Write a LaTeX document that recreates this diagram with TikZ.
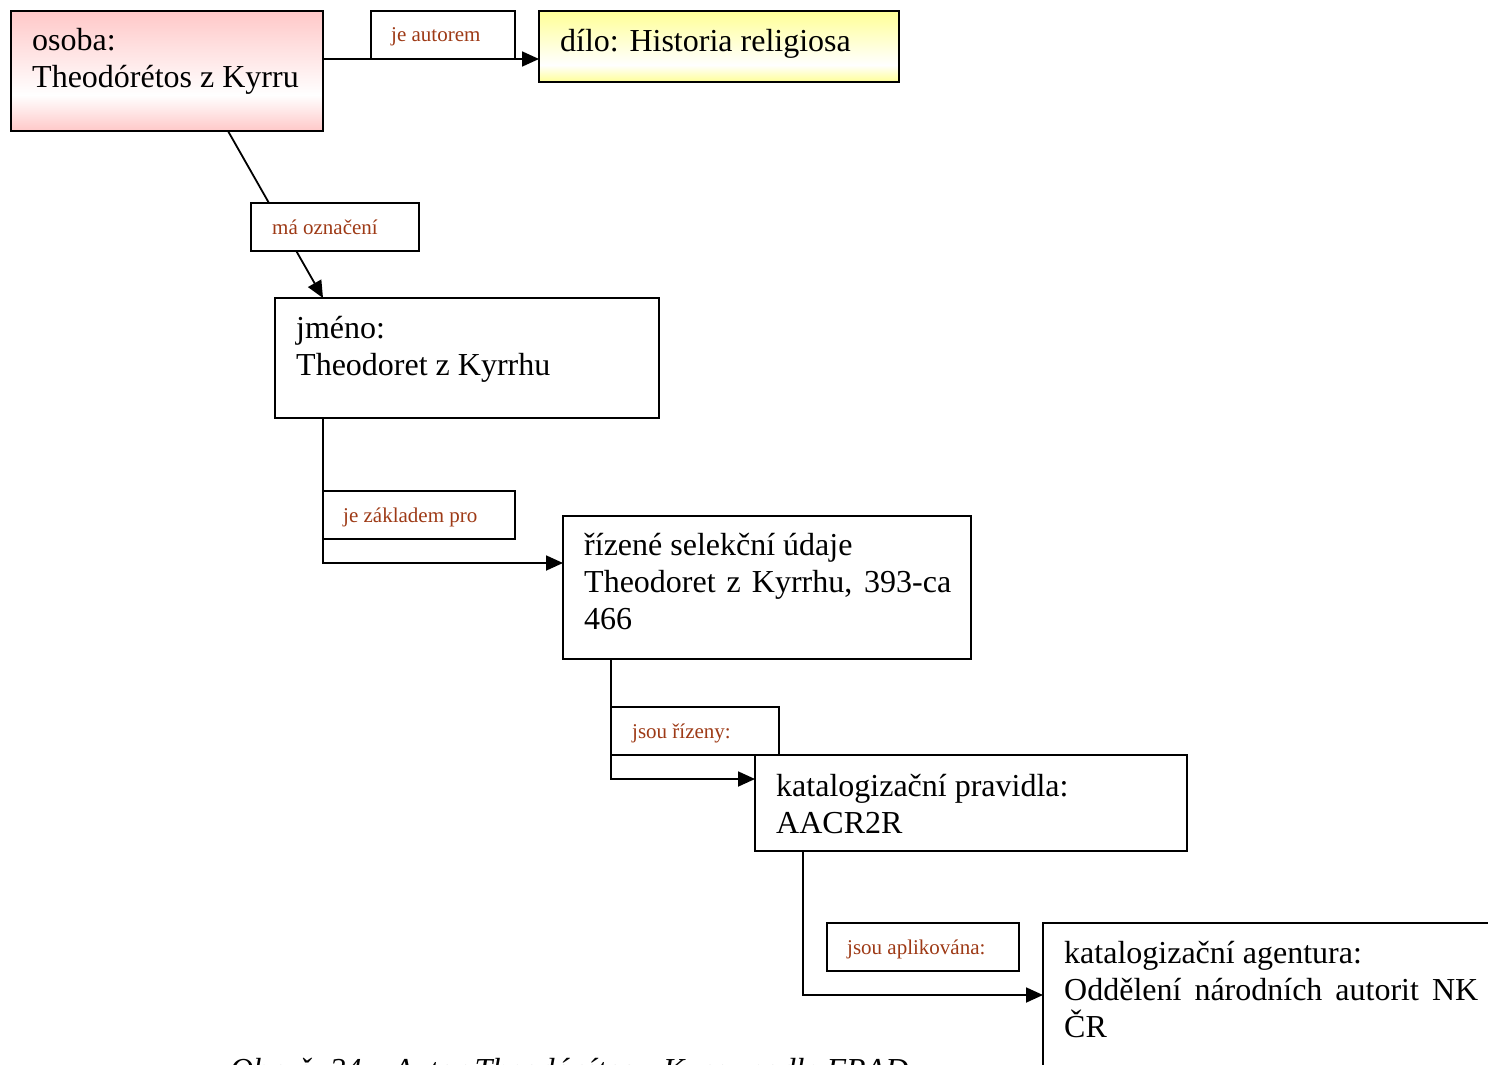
\documentclass[tikz,border=0pt]{standalone}
\usepackage{fontspec}
\setmainfont{Liberation Serif}
\usetikzlibrary{arrows.meta,calc,backgrounds}
\definecolor{labelred}{RGB}{158,58,22}
\definecolor{rosefill}{RGB}{255,200,200}
\definecolor{lemonfill}{RGB}{255,255,150}
% pink and yellow bands that fade to white a little below the middle
\pgfdeclareverticalshading{roseband}{100bp}{color(0bp)=(rosefill); color(25bp)=(rosefill); color(40bp)=(white); color(75bp)=(rosefill); color(100bp)=(rosefill)}
\pgfdeclareverticalshading{lemonband}{100bp}{color(0bp)=(lemonfill); color(25bp)=(lemonfill); color(37bp)=(white); color(75bp)=(lemonfill); color(100bp)=(lemonfill)}
\begin{document}
\begin{tikzpicture}[x=1pt,y=-1pt,
  box/.style={draw, line width=1.6pt, inner sep=0pt, outer sep=0pt, anchor=north west},
  tag/.style={box, fill=white, minimum height=48pt},
  bigtext/.style={font=\fontsize{32}{37}\selectfont, inner sep=0pt, anchor=base west},
  tagtext/.style={font=\fontsize{21}{25}\selectfont, text=labelred, inner sep=0pt, anchor=base west},
  link/.style={line width=1.8pt, -{Triangle[length=17pt,width=15pt]}}]
\useasboundingbox (0,0) rectangle (1488,1065);
\clip (0,0) rectangle (1488,1065);

% entity boxes
\node[box, shade, shading=roseband, minimum width=312pt, minimum height=120pt] (osoba) at (11,11) {};
\node[box, shade, shading=lemonband, minimum width=360pt, minimum height=71pt] (dilo) at (539,11) {};
\node[box, minimum width=384pt, minimum height=120pt] (jmeno) at (275,298) {};
\node[box, minimum width=408pt, minimum height=143pt] (rizene) at (563,516) {};
\node[box, minimum width=432pt, minimum height=96pt] (pravidla) at (755,755) {};
\node[box, minimum width=500pt, minimum height=200pt] (agentura) at (1043,923) {};

% relation labels
\node[tag, minimum width=144pt] (jeautorem) at (371,11) {};
\node[tag, minimum width=168pt] (oznaceni) at (251,203) {};
\node[tag, minimum width=192pt] (zakladem) at (323,491) {};
\node[tag, minimum width=168pt] (rizeny) at (611,707) {};
\node[tag, minimum width=192pt] (aplikovana) at (827,923) {};

% connectors
\begin{pgfonlayer}{background}
\draw[link] (osoba.east |- jeautorem.south) -- (dilo.west |- jeautorem.south);
\draw[link] ($(osoba.south west)!0.6955!(osoba.south east)$) -- ([xshift=48pt]jmeno.north west);
\draw[link] ([xshift=48pt]jmeno.south west) |- ([yshift=-47pt]rizene.north west);
\draw[link] ([xshift=48pt]rizene.south west) |- ([yshift=-24pt]pravidla.north west);
\draw[link] ([xshift=48pt]pravidla.south west) |- ([yshift=-72pt]agentura.north west);
\end{pgfonlayer}

% box texts
\node[bigtext] (osobaA) at (32,51) {osoba:};
\node[bigtext] (osobaB) at (32,88) {Theodórétos z Kyrru};
\node[bigtext] (diloA) at (560,52) {dílo: Historia religiosa};
\node[bigtext] (jmenoA) at (296,338) {jméno:};
\node[bigtext] (jmenoB) at (296,375) {Theodoret z Kyrrhu};
\node[bigtext] (rizeneA) at (584,555) {řízené selekční údaje};
\node[bigtext] (rizeneB) at (584,592) {\makebox[367pt][s]{Theodoret z Kyrrhu, 393-ca}};
\node[bigtext] (rizeneC) at (584,629) {466};
\node[bigtext] (pravidlaA) at (776,796) {katalogizační pravidla:};
\node[bigtext] (pravidlaB) at (776,833) {AACR2R};
\node[bigtext] (agenturaA) at (1064,963) {katalogizační agentura:};
\node[bigtext] (agenturaB) at (1064,1000) {\makebox[414pt][s]{Oddělení národních autorit NK}};
\node[bigtext] (agenturaC) at (1064,1037) {ČR};

% label texts
\node[tagtext] (jeautoremT) at (391,42) {je autorem};
\node[tagtext] (oznaceniT) at (272,234) {má označení};
\node[tagtext] (zaklademT) at (343,522) {je základem pro};
\node[tagtext] (rizenyT) at (632,738) {jsou řízeny:};
\node[tagtext] (aplikovanaT) at (847,954) {jsou aplikována:};

% caption, cut by the lower edge
\node[bigtext, font=\fontsize{32}{37}\selectfont\itshape] (caption) at (230,1080) {Obr. č. 24 – Autor Theodórétos z Kyrru podle FRAD};
\end{tikzpicture}
\end{document}
